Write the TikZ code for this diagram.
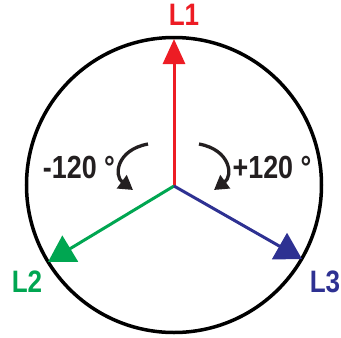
\documentclass[tikz,border=0pt]{standalone}
\usepackage{fontspec}
\setmainfont{Liberation Sans}[FakeStretch=0.84]
\usetikzlibrary{arrows.meta}
\definecolor{Lred}{HTML}{ED1C24}
\definecolor{Lgreen}{HTML}{00A651}
\definecolor{Lblue}{HTML}{2E3192}
\definecolor{ink}{HTML}{231F20}
\tikzset{
  phasor/.style={line width=3pt},
  lbl/.style={font=\fontsize{31}{31}\selectfont\bfseries, inner sep=0pt},
  anglbl/.style={font=\fontsize{32}{32}\selectfont\bfseries, text=ink, inner sep=0pt},
  rot/.style={line width=3.3pt, draw=ink, -{Triangle[width=16pt,length=14pt]}},
}
\begin{document}
\begin{tikzpicture}[x=1pt,y=-1pt]
\useasboundingbox (0,0) rectangle (341,338);
\coordinate (O) at (174,186);
\node[draw=black, line width=3.5pt, circle, minimum size=295pt, inner sep=0pt] (C) at (174,185) {};
\coordinate (T1) at (174,39);
\coordinate (T2) at (48,262);
\coordinate (T3) at (302,259);
\draw[phasor, Lred, -{Triangle[width=22pt,length=25pt]}] (O) -- (T1);
\draw[phasor, Lgreen, -{Triangle[width=30pt,length=26pt]}] (O) -- (T2);
\draw[phasor, Lblue, -{Triangle[width=30pt,length=26pt]}] (O) -- (T3);
\node[lbl, text=Lred] (l1) at (184,15) {L1};
\node[lbl, text=Lgreen] (l2) at (27,282) {L2};
\node[lbl, text=Lblue] (l3) at (325,282) {L3};
\node[anglbl] (m120) at (79,167) {-120 °};
\node[anglbl] (p120) at (272,167) {+120 °};
\coordinate (a1s) at (148,144);
\coordinate (a1e) at (133,190);
\coordinate (a2s) at (199,144);
\coordinate (a2e) at (214,190);
\draw[rot] (a1s) .. controls (116,150) and (114,176) .. (a1e);
\draw[rot] (a2s) .. controls (231,150) and (233,176) .. (a2e);
\end{tikzpicture}
\end{document}
